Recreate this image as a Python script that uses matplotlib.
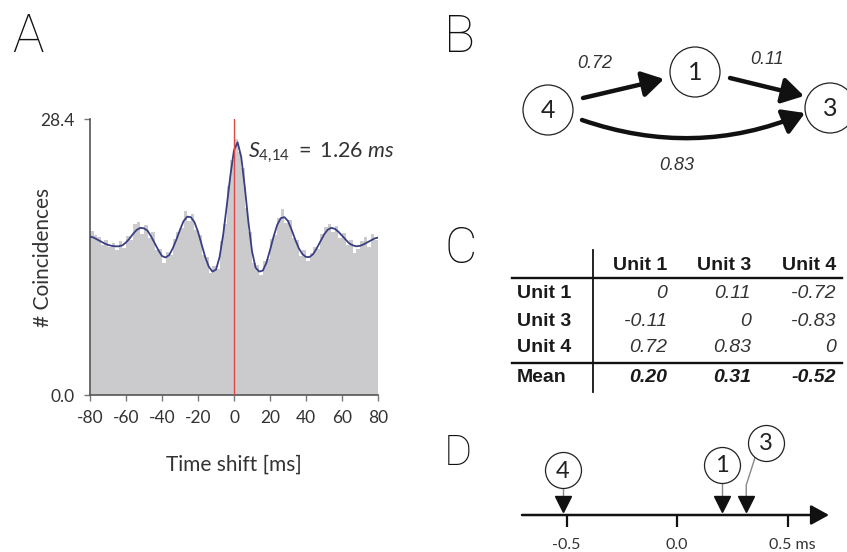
import numpy as np
import matplotlib
matplotlib.use("Agg")
import matplotlib.pyplot as plt
from matplotlib.patches import FancyArrowPatch, Circle

W, H = 847, 552

# ---------------- Data ----------------
# Panel A: cross-correlogram (2 ms bins, centres -79..79)
hist_centers = np.arange(-79, 80, 2)
hist_counts = [
    16.9, 16.5, 16.3, 15.4, 16.0, 15.2, 15.6, 14.9,
    15.8, 15.1, 16.4, 16.0, 17.6, 17.8, 16.6, 17.5,
    16.2, 16.8, 14.9, 15.0, 13.6, 14.7, 14.4, 16.1,
    16.8, 17.2, 18.9, 17.9, 18.6, 17.0, 16.5, 14.4,
    14.2, 12.6, 13.3, 13.0, 15.8, 17.6, 21.5, 24.2,
    26.3, 25.0, 23.4, 19.2, 16.8, 13.6, 13.4, 12.3,
    13.8, 14.0, 16.1, 16.5, 18.2, 19.1, 17.7, 18.0,
    16.2, 16.0, 14.3, 14.9, 13.8, 14.6, 15.2, 15.0,
    16.6, 17.3, 17.6, 16.8, 17.4, 16.2, 16.7, 15.4,
    15.9, 14.6, 15.0, 15.8, 16.3, 15.2, 16.6, 16.0,
]
curve_t = np.arange(-80, 81, 2)
curve_v = [
    16.3, 16.2, 16.0, 15.8, 15.6, 15.45, 15.35, 15.3, 15.3, 15.4,
    15.7, 16.1, 16.6, 17.0, 17.2, 17.15, 16.9, 16.3, 15.6, 14.9,
    14.3, 14.15, 14.4, 15.1, 16.0, 17.0, 17.9, 18.35, 18.3, 17.8,
    16.8, 15.5, 14.2, 13.2, 12.7, 12.9, 14.2, 16.5, 19.5, 22.6,
    25.2, 26.0, 24.5, 21.4, 17.8, 14.8, 13.1, 12.7, 12.8, 13.6,
    14.9, 16.3, 17.5, 18.2, 18.3, 17.9, 17.0, 16.0, 15.1, 14.5,
    14.2, 14.2, 14.5, 15.1, 15.8, 16.5, 17.0, 17.2, 17.1, 16.8,
    16.4, 16.0, 15.6, 15.4, 15.3, 15.35, 15.5, 15.7, 15.9, 16.1,
    16.2,
]
x_ticks = [-80, -60, -40, -20, 0, 20, 40, 60, 80]
y_ticks = [0.0, 28.4]
y_max = 28.4
shift_text = r"$S_{4{,}14}\ =\ 1.26\ ms$"

# Panels B-D: asymmetry matrix
unit_ids = [1, 3, 4]
unit_names = ["Unit 1", "Unit 3", "Unit 4"]
matrix = np.array([
    [0.00, 0.11, -0.72],
    [-0.11, 0.00, -0.83],
    [0.72, 0.83, 0.00],
])
means = matrix.mean(axis=0)
d_ticks = [-0.5, 0.0, 0.5]
d_tick_labels = ["-0.5", "0.0", "0.5 ms"]

# ---------------- Figure ----------------
plt.rcParams["mathtext.fontset"] = "custom"
plt.rcParams["mathtext.it"] = "Lato:italic"
plt.rcParams["mathtext.rm"] = "Lato"
fig = plt.figure(figsize=(W / 100, H / 100), dpi=100)

GEO = dict(family="Lato", fontweight="normal")


def box(x0, y0, x1, y1):
    return [x0 / W, 1 - y1 / H, (x1 - x0) / W, (y1 - y0) / H]


# ---- Panel A ----
axA = fig.add_axes(box(90, 119, 378, 395))
axA.bar(hist_centers, hist_counts, width=2.0, color="#cbcbcd", edgecolor="none", zorder=1)
axA.plot(curve_t, curve_v, color="#3a3e82", lw=1.3, zorder=3)
axA.axvline(0, color="#e04848", lw=1.0, zorder=4)
axA.set_xlim(-80, 80)
axA.set_ylim(0, y_max)
for s in ["top", "right"]:
    axA.spines[s].set_visible(False)
for s in ["left", "bottom"]:
    axA.spines[s].set_color("#555555")
    axA.spines[s].set_linewidth(1.2)
axA.set_xticks(x_ticks)
axA.set_xticklabels([str(v) for v in x_ticks])
axA.set_yticks(y_ticks)
axA.set_yticklabels([f"{v:.1f}" for v in y_ticks])
axA.tick_params(direction="out", length=4, width=1, color="#777777",
                labelsize=12.5, labelcolor="#333333", pad=7)
for lab in axA.get_xticklabels() + axA.get_yticklabels():
    lab.set_family("Lato")
axA.set_ylabel("# Coincidences", fontsize=15, color="#333333", **GEO)
axA.yaxis.set_label_coords(-0.128, 0.5)
axA.set_xlabel("Time shift [ms]", fontsize=15, color="#333333", **GEO)
axA.xaxis.set_label_coords(0.5, -0.215)
axA.text(7.8, 24.9, shift_text, fontsize=15.5, color="#333333", va="center", ha="left")

# ---- overlay in pixel coordinates for B and C ----
ov = fig.add_axes([0, 0, 1, 1])
ov.set_xlim(0, W)
ov.set_ylim(H, 0)
ov.axis("off")

# panel letters
for letter, x, y, fs in [("A", 12, 52, 38), ("B", 444, 52, 37), ("C", 444, 263, 36), ("D", 444, 465, 31)]:
    ov.text(x, y, letter, fontsize=fs, va="baseline", ha="left", color="#111111",
            family="Roboto", fontweight="light")

# ---- Panel B ----
node_pos = {4: (548, 110), 1: (695, 72), 3: (830, 108)}
for uid, (x, y) in node_pos.items():
    ov.add_patch(Circle((x, y), 25, facecolor="white", edgecolor="#222222", lw=0.9, zorder=3))
    ov.text(x, y + 1, str(uid), fontsize=18, ha="center", va="center", color="#222222", zorder=4, **GEO)

idx = {u: i for i, u in enumerate(unit_ids)}
edges = [
    (4, 1, (583, 98), (664, 79), 0.0, (595, 63)),
    (1, 3, (730, 78), (804, 96), 0.0, (767, 60)),
    (4, 3, (582, 120), (805, 113), 0.19, (677, 165)),
]
for src, dst, p0, p1, rad, lab_xy in edges:
    arr = FancyArrowPatch(p0, p1, arrowstyle="-|>,head_length=1.0,head_width=0.6",
                          mutation_scale=13, lw=3.2, color="#111111",
                          shrinkA=0, shrinkB=0, connectionstyle=f"arc3,rad={rad}", zorder=2)
    ov.add_patch(arr)
    ov.text(lab_xy[0], lab_xy[1], f"{abs(matrix[idx[src], idx[dst]]):.2f}", fontsize=13,
            style="italic", family="Liberation Sans", color="#333333", ha="center", va="center")

# ---- Panel C: table ----
col_right = [667, 751, 836]
row_y = [293, 321, 348]
mean_y = 377
header_y = 265
label_x = 517
TB = dict(family="Liberation Sans", fontweight="bold", fontsize=14, color="#1a1a1a", va="center")
TI = dict(family="Liberation Sans", style="italic", fontsize=14, color="#333333", va="center", ha="right")
for j, name in enumerate(unit_names):
    ov.text(col_right[j], header_y, name, ha="right", **TB)
for i, name in enumerate(unit_names):
    ov.text(label_x, row_y[i], name, ha="left", **TB)
    for j in range(3):
        v = matrix[i, j]
        ov.text(col_right[j], row_y[i], "0" if v == 0 else f"{v:.2f}", **TI)
ov.text(label_x, mean_y, "Mean", ha="left", **TB)
for j in range(3):
    ov.text(col_right[j], mean_y, f"{means[j]:.2f}", ha="right", va="center",
            family="Liberation Sans", style="italic", fontweight="bold", fontsize=14, color="#1a1a1a")
ov.plot([593, 593], [250, 392], color="#111111", lw=1.3)
ov.plot([512, 842], [278, 278], color="#111111", lw=1.7)
ov.plot([512, 842], [363, 363], color="#111111", lw=1.7)

# ---- Panel D: timeline ----
px_per_ms = 221.0
zero_px = 677
axD = fig.add_axes(box(500, 420, 847, 552))
axD.set_xlim((500 - zero_px) / px_per_ms, (847 - zero_px) / px_per_ms)
axD.set_ylim(552, 420)
axD.axis("off")
x_start = (522 - zero_px) / px_per_ms
x_end = (829 - zero_px) / px_per_ms
axD.add_patch(FancyArrowPatch((x_start, 515), (x_end, 515),
                              arrowstyle="-|>,head_length=1.0,head_width=0.55",
                              mutation_scale=11, lw=1.8, color="#111111",
                              shrinkA=0, shrinkB=0))
axD.vlines(d_ticks, 515, 527, color="#111111", lw=1.6)
for t, lab in zip(d_ticks, d_tick_labels):
    off = 5 / px_per_ms if "ms" in lab else 0
    axD.text(t + off, 549, lab, ha="center", va="baseline", fontsize=11.5, color="#333333", **GEO)

# circle layout: (dx offset in px, circle centre y in px)
circ_layout = {4: (0, 470), 1: (0, 465), 3: (20, 443)}
r_px = 18
for j, uid in enumerate(unit_ids):
    m = means[j]
    axD.plot([m], [504], marker="v", markersize=11, color="#111111", zorder=3)
    dx, cy = circ_layout[uid]
    cx = m + dx / px_per_ms
    if dx == 0:
        axD.plot([m, m], [498, cy + r_px], color="#888888", lw=1.0)
    else:
        axD.plot([m, m, m + 9 / px_per_ms], [498, 485, 457], color="#888888", lw=1.0)
    axD.plot([cx], [cy], marker="o", markersize=2 * r_px * 0.72, markerfacecolor="white",
             markeredgecolor="#222222", markeredgewidth=0.9, zorder=4)
    axD.text(cx, cy + 1, str(uid), fontsize=17, ha="center", va="center", color="#222222",
             zorder=5, **GEO)

fig.savefig("out.png", dpi=100)
